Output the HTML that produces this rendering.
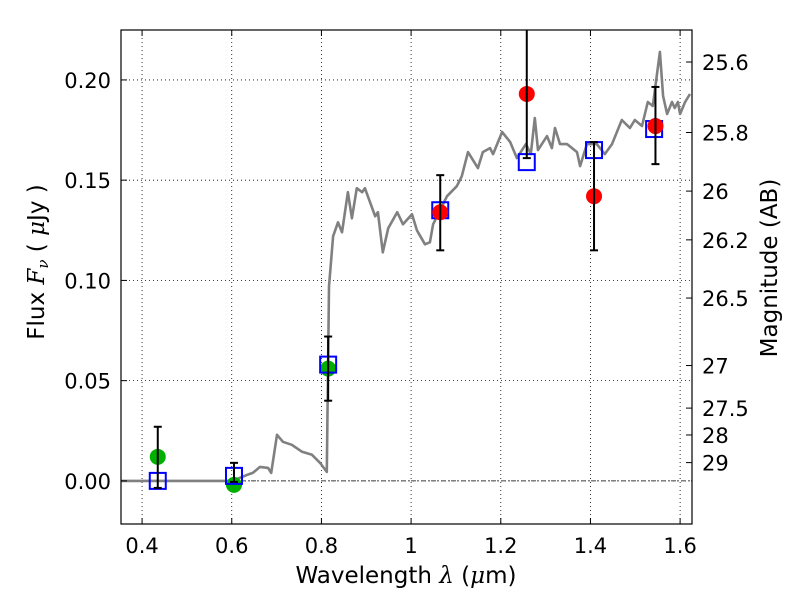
<!DOCTYPE html>
<html><head><meta charset="utf-8"><style>
body{margin:0;background:#fff}
svg{display:block;font-family:"DejaVu Sans","Liberation Sans",sans-serif}
</style></head><body>
<svg id="chart" width="800" height="600">
<rect width="800" height="600" fill="#fff"/>
<g id="grid"></g>
<g id="plot"></g>
<rect x="121" y="30" width="571" height="494" fill="none" stroke="#000" stroke-width="1.2"/>
<g id="axes"></g>
<text x="406" y="583" text-anchor="middle" font-size="23">Wavelength  <tspan font-family="DejaVu Serif,serif" font-style="italic">λ</tspan> (<tspan font-family="DejaVu Serif,serif" font-style="italic">μ</tspan>m)</text>
<text transform="translate(44,262) rotate(-90)" text-anchor="middle" font-size="23">Flux  <tspan font-family="DejaVu Serif,serif" font-style="italic">F<tspan font-size="15" dy="4">ν</tspan></tspan><tspan dy="-4">   ( </tspan><tspan font-family="DejaVu Serif,serif" font-style="italic">μ</tspan>Jy )</text>
<text transform="translate(777,268) rotate(-90)" text-anchor="middle" font-size="23">Magnitude (AB)</text>
</svg>
<script>
const specLam=[0.353,0.601,0.634,0.647,0.663,0.681,0.688,0.701,0.714,0.734,0.757,0.779,0.797,0.812,0.817,0.826,0.837,0.846,0.859,0.868,0.879,0.891,0.897,0.920,0.926,0.937,0.949,0.969,0.982,1.002,1.013,1.031,1.042,1.049,1.080,1.102,1.113,1.127,1.149,1.160,1.176,1.183,1.203,1.221,1.236,1.256,1.267,1.276,1.283,1.303,1.314,1.321,1.332,1.348,1.370,1.377,1.392,1.414,1.432,1.448,1.470,1.488,1.499,1.515,1.528,1.539,1.555,1.562,1.571,1.582,1.588,1.595,1.600,1.611,1.622];
const specFlux=[0,0,0.003,0.004,0.007,0.0065,0.004,0.023,0.0195,0.018,0.0145,0.013,0.009,0.0045,0.097,0.122,0.129,0.124,0.144,0.131,0.146,0.144,0.146,0.132,0.134,0.114,0.126,0.134,0.128,0.133,0.125,0.118,0.119,0.128,0.142,0.147,0.152,0.164,0.156,0.164,0.166,0.163,0.174,0.169,0.161,0.168,0.163,0.181,0.165,0.172,0.166,0.176,0.168,0.168,0.164,0.157,0.168,0.168,0.163,0.168,0.180,0.176,0.180,0.177,0.189,0.187,0.214,0.192,0.183,0.189,0.186,0.189,0.183,0.189,0.193];
const greenLam=[0.435,0.605,0.815];
const greenFlux=[0.012,-0.002,0.056];
const redLam=[1.065,1.258,1.408,1.545];
const redFlux=[0.134,0.193,0.142,0.177];
const errLam=[0.435,0.605,0.815,1.065,1.258,1.408,1.545];
const errLow=[-0.0035,-0.0005,0.040,0.115,0.161,0.115,0.158];
const errHigh=[0.027,0.009,0.072,0.1525,0.30,0.169,0.1965];
const boxLam=[0.435,0.605,0.815,1.065,1.258,1.408,1.542];
const boxFlux=[0.0,0.0025,0.058,0.135,0.159,0.165,0.1755];
const xTicks=[0.4,0.6,0.8,1,1.2,1.4,1.6];
const xTickLabels=["0.4","0.6","0.8","1","1.2","1.4","1.6"];
const yTicks=[0,0.05,0.10,0.15,0.20];
const yTickLabels=["0.00","0.05","0.10","0.15","0.20"];
const magTicks=[25.6,25.8,26,26.2,26.5,27,27.5,28,29];
const magTickLabels=["25.6","25.8","26","26.2","26.5","27","27.5","28","29"];

const X0=121,X1=692,Y0=30,Y1=524,xmin=0.353,xmax=1.6265,ymin=-0.0215,ymax=0.2249;
const sx=v=>X0+(v-xmin)/(xmax-xmin)*(X1-X0);
const sy=v=>Y1-(v-ymin)/(ymax-ymin)*(Y1-Y0);
const NS="http://www.w3.org/2000/svg";
function mk(parent,tag,attrs){const e=document.createElementNS(NS,tag);for(const k in attrs)e.setAttribute(k,attrs[k]);parent.appendChild(e);return e;}
const grid=document.getElementById('grid'),plot=document.getElementById('plot'),axes=document.getElementById('axes');

xTicks.forEach((t,i)=>{
  const g=mk(grid,'line',{x1:sx(t),x2:sx(t),y1:Y0,y2:Y1,stroke:'#000','stroke-width':0.8,'stroke-dasharray':'1,3'});
  
  
  mk(axes,'line',{x1:sx(t),x2:sx(t),y1:Y1,y2:Y1-6,stroke:'#000'});
  mk(axes,'line',{x1:sx(t),x2:sx(t),y1:Y0,y2:Y0+6,stroke:'#000'});
  const tx=mk(axes,'text',{x:sx(t),y:Y1+29,'text-anchor':'middle','font-size':21});
  tx.textContent=xTickLabels[i];
  
  
});
yTicks.forEach((t,i)=>{
  const g=mk(grid,'line',{x1:X0,x2:X1,y1:sy(t),y2:sy(t),stroke:'#000','stroke-width':0.8,'stroke-dasharray':'1,3'});
  
  
  mk(axes,'line',{x1:X0,x2:X0+6,y1:sy(t),y2:sy(t),stroke:'#000'});
  const tx=mk(axes,'text',{x:X0-10,y:sy(t)+8,'text-anchor':'end','font-size':21});
  tx.textContent=yTickLabels[i];
  
  
});
magTicks.forEach((m,i)=>{
  const f=Math.pow(10,(23.9-m)/2.5);
  const y=sy(f);
  mk(axes,'line',{x1:X1,x2:X1-6,y1:y,y2:y,stroke:'#000'});
  const tx=mk(axes,'text',{x:X1+10,y:y+8,'font-size':21});
  tx.textContent=magTickLabels[i];
  
  
});
const zl=mk(plot,'line',{x1:X0,x2:X1,y1:sy(0),y2:sy(0),stroke:'#000','stroke-width':0.8,'stroke-dasharray':'5,2,1,2'});


const pts=specLam.map((l,i)=>sx(l).toFixed(1)+','+sy(specFlux[i]).toFixed(1)).join(' ');
const sp=mk(plot,'polyline',{points:pts,fill:'none',stroke:'#808080','stroke-width':2.6,'stroke-linejoin':'round'});


greenLam.forEach((l,i)=>{
  const c=mk(plot,'circle',{cx:sx(l),cy:sy(greenFlux[i]),r:8,fill:'#00b000'});
  
  
});
boxLam.forEach((l,i)=>{
  const r=mk(plot,'rect',{x:sx(l)-8,y:sy(boxFlux[i])-8,width:16,height:16,fill:'none',stroke:'#0000ff','stroke-width':2});
  
  
});
redLam.forEach((l,i)=>{
  const c=mk(plot,'circle',{cx:sx(l),cy:sy(redFlux[i]),r:8,fill:'#ff0000'});
  
  
});
errLam.forEach((l,i)=>{
  const x=sx(l),yl=sy(errLow[i]),yh=Math.max(sy(errHigh[i]),Y0);
  const g=mk(plot,'g',{stroke:'#000','stroke-width':2});
  
  
  mk(g,'line',{x1:x,x2:x,y1:yl,y2:yh});
  mk(g,'line',{x1:x-4,x2:x+4,y1:yl,y2:yl});
  if(sy(errHigh[i])>=Y0) mk(g,'line',{x1:x-4,x2:x+4,y1:yh,y2:yh});
});
</script>
</body></html>
